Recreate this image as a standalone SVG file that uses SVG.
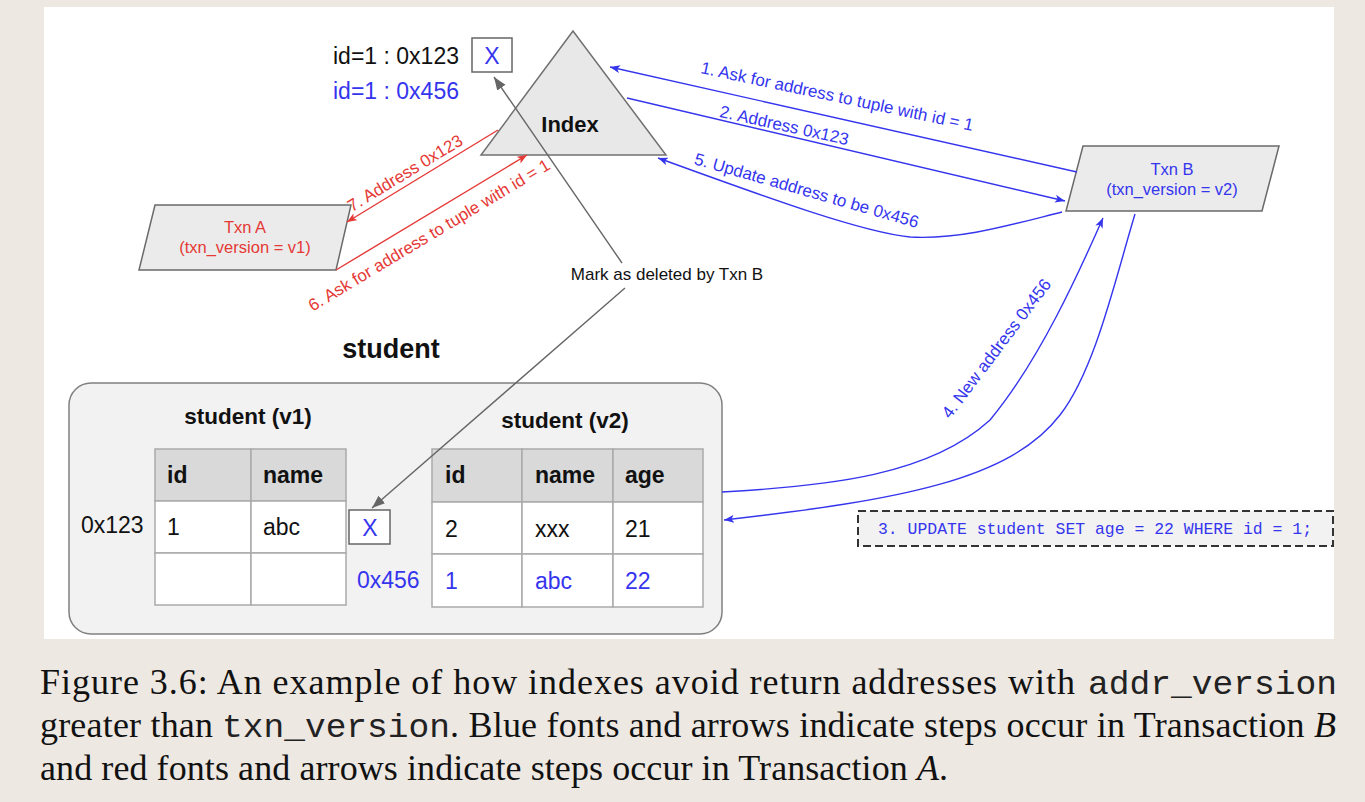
<svg xmlns="http://www.w3.org/2000/svg" width="1365" height="802" viewBox="0 0 1365 802">
<style>
text{font-family:"Liberation Sans",Arial,sans-serif;fill:#111}
.b{font-weight:bold}
.blue{fill:#3535ee}
.red{fill:#e53935}
.shape{fill:#ebebeb;stroke:#6a6a6a;stroke-width:1.5}
.cell{fill:#fff;stroke:#aaa;stroke-width:1.5}
.head{fill:#d9d9d9;stroke:#aaa;stroke-width:1.5}
.xbox{fill:#fff;stroke:#666;stroke-width:1.5}
.cb{fill:none;stroke:#3535ee;stroke-width:1.4}
.cr{fill:none;stroke:#e53935;stroke-width:1.4}
.cg{fill:none;stroke:#666;stroke-width:1.4}
.t23{font-size:23px}
.t17{font-size:17px}
.cap{font-family:"Liberation Serif","Times New Roman",serif;font-size:36px;fill:#111}
.mono{font-family:"Liberation Mono","Courier New",monospace;font-size:34px;fill:#222}
.sql{font-family:"Liberation Mono","DejaVu Sans Mono",monospace;font-size:17px;fill:#3535ee}
</style>
<defs>
<marker id="ab" markerUnits="userSpaceOnUse" markerWidth="11" markerHeight="8" refX="10" refY="4" orient="auto"><path d="M0,0 L10,4 L0,8 L2.5,4 z" fill="#3535ee"/></marker>
<marker id="ar" markerUnits="userSpaceOnUse" markerWidth="11" markerHeight="8" refX="10" refY="4" orient="auto"><path d="M0,0 L10,4 L0,8 L2.5,4 z" fill="#e53935"/></marker>
<marker id="ag" markerUnits="userSpaceOnUse" markerWidth="14" markerHeight="11" refX="13" refY="5" orient="auto"><path d="M0,0 L13,5 L0,10 z" fill="#666"/></marker>
</defs>
<rect x="0" y="0" width="1365" height="802" fill="#ede8e2"/>
<rect x="44" y="7" width="1290" height="632" fill="#fff"/>

<g id="index">
<polygon points="573,31 481,155 666,155" fill="#e8e8e8" stroke="#707070" stroke-width="1.5"/>
<text x="570" y="132" text-anchor="middle" class="b" font-size="22">Index</text>
</g>
<g id="index-entries">
<text x="333" y="64" class="t23">id=1 : 0x123</text>
<rect x="472" y="38" width="40" height="34" class="xbox"/>
<text x="492" y="64" text-anchor="middle" class="t23 blue">X</text>
<text x="333" y="99" class="t23 blue">id=1 : 0x456</text>
</g>

<g id="txnA">
<polygon points="155,205 351,205 336,270 139,270" class="shape"/>
<text x="245" y="233" text-anchor="middle" font-size="16.5" class="red">Txn A</text>
<text x="245" y="253" text-anchor="middle" font-size="16.5" class="red">(txn_version = v1)</text>
</g>
<g id="txnB">
<polygon points="1083,146 1279,146 1262,211 1066,211" class="shape"/>
<text x="1172" y="175" text-anchor="middle" font-size="16.5" class="blue">Txn B</text>
<text x="1172" y="195" text-anchor="middle" font-size="16.5" class="blue">(txn_version = v2)</text>
</g>

<g id="student">
<text x="391" y="358" text-anchor="middle" class="b" font-size="27">student</text>
<rect x="69" y="383" width="653" height="251" rx="22" fill="#f2f2f2" stroke="#808080" stroke-width="1.5"/>
<text x="248" y="424" text-anchor="middle" class="b" font-size="22.5">student (v1)</text>
<g id="table-v1">
<rect x="155" y="449" width="96" height="52" class="head"/>
<rect x="251" y="449" width="95" height="52" class="head"/>
<rect x="155" y="501" width="96" height="52" class="cell"/>
<rect x="251" y="501" width="95" height="52" class="cell"/>
<rect x="155" y="553" width="96" height="52" class="cell"/>
<rect x="251" y="553" width="95" height="52" class="cell"/>
<text x="167" y="483" class="b t23">id</text>
<text x="263" y="483" class="b t23">name</text>
<text x="167" y="535" class="t23">1</text>
<text x="263" y="535" class="t23">abc</text>
</g>
<text x="81" y="533" class="t23">0x123</text>
<rect x="349" y="510" width="41" height="34" class="xbox"/>
<text x="370" y="536" text-anchor="middle" class="t23 blue">X</text>
<text x="357" y="588" class="t23 blue">0x456</text>
<text x="565" y="428" text-anchor="middle" class="b" font-size="22.5">student (v2)</text>
<g id="table-v2">
<rect x="432" y="449" width="90" height="53" class="head"/>
<rect x="522" y="449" width="91" height="53" class="head"/>
<rect x="613" y="449" width="90" height="53" class="head"/>
<rect x="432" y="502" width="90" height="52" class="cell"/>
<rect x="522" y="502" width="91" height="52" class="cell"/>
<rect x="613" y="502" width="90" height="52" class="cell"/>
<rect x="432" y="554" width="90" height="53" class="cell"/>
<rect x="522" y="554" width="91" height="53" class="cell"/>
<rect x="613" y="554" width="90" height="53" class="cell"/>
<text x="445" y="483" class="b t23">id</text>
<text x="535" y="483" class="b t23">name</text>
<text x="625" y="483" class="b t23">age</text>
<text x="445" y="537" class="t23">2</text>
<text x="535" y="537" class="t23">xxx</text>
<text x="625" y="537" class="t23">21</text>
<text x="445" y="589" class="t23 blue">1</text>
<text x="535" y="589" class="t23 blue">abc</text>
<text x="625" y="589" class="t23 blue">22</text>
</g>
</g>

<g id="update-stmt">
<rect x="858" y="511" width="475" height="35" fill="#f2f2f2" stroke="#333" stroke-width="2" stroke-dasharray="8,4"/>
<text x="878" y="534" class="sql" textLength="434" lengthAdjust="spacingAndGlyphs">3. UPDATE student SET age = 22 WHERE id = 1;</text>
</g>

<g id="connectors">
<path d="M1077,172 L610,67" class="cb" marker-end="url(#ab)"/>
<path d="M627,98 L1065,201" class="cb" marker-end="url(#ab)"/>
<path d="M1062,212 C1010,225 960,240 910,237 C860,232 760,195 658,158" class="cb" marker-end="url(#ab)"/>
<path d="M722,492 C830,486 930,475 990,420 C1040,360 1080,270 1103,218" class="cb" marker-end="url(#ab)"/>
<path d="M1135,214 C1115,280 1095,370 1060,415 C1010,480 900,500 724,520" class="cb" marker-end="url(#ab)"/>
<path d="M498,130 L347,222" class="cr" marker-end="url(#ar)"/>
<path d="M336,270 L527,155" class="cr" marker-end="url(#ar)"/>
<path d="M622,263 L494,77" class="cg" marker-end="url(#ag)"/>
<path d="M625,288 L372,508" class="cg" marker-end="url(#ag)"/>
</g>
<g id="connector-labels">
<text transform="translate(836,102) rotate(12)" text-anchor="middle" class="t17 blue">1. Ask for address to tuple with id = 1</text>
<text transform="translate(783,131) rotate(12.5)" text-anchor="middle" class="t17 blue">2. Address 0x123</text>
<text transform="translate(805,196) rotate(16)" text-anchor="middle" class="t17 blue">5. Update address to be 0x456</text>
<text transform="translate(1001,352) rotate(-53)" text-anchor="middle" class="t17 blue">4. New address 0x456</text>
<text transform="translate(408,178) rotate(-31.4)" text-anchor="middle" class="t17 red">7. Address 0x123</text>
<text transform="translate(432,240) rotate(-31)" text-anchor="middle" class="t17 red">6. Ask for address to tuple with id = 1</text>
<text x="667" y="280" text-anchor="middle" class="t17">Mark as deleted by Txn B</text>
</g>

<g id="caption">
<text x="40" y="694" class="cap" textLength="1035" lengthAdjust="spacing">Figure 3.6: An example of how indexes avoid return addresses with</text>
<text x="1088" y="694" class="mono" textLength="249" lengthAdjust="spacingAndGlyphs">addr_version</text>
<text x="40" y="737" class="cap" textLength="173" lengthAdjust="spacing">greater than</text>
<text x="222" y="737" class="mono" textLength="228" lengthAdjust="spacingAndGlyphs">txn_version</text>
<text x="450" y="737" class="cap" textLength="886" lengthAdjust="spacing">. Blue fonts and arrows indicate steps occur in Transaction <tspan font-style="italic">B</tspan></text>
<text x="40" y="780" class="cap" textLength="908" lengthAdjust="spacing">and red fonts and arrows indicate steps occur in Transaction <tspan font-style="italic">A</tspan>.</text>
</g>
</svg>
